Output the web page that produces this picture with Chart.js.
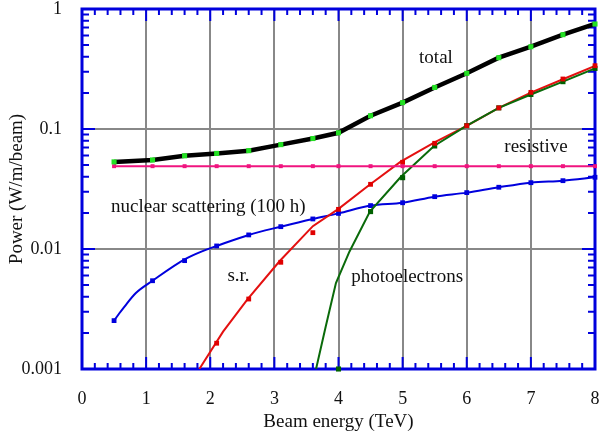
<!DOCTYPE html>
<html>
<head>
<meta charset="utf-8">
<script src="https://cdn.jsdelivr.net/npm/chart.js@4"></script>
<style>
  html, body { margin: 0; padding: 0; background: #fff; }
</style>
</head>
<body>
<canvas id="powerChart" width="599" height="436"></canvas>
<script>
// beam energies where the markers sit (TeV)
const markerX = [0.5, 1.1, 1.6, 2.1, 2.6, 3.1, 3.6, 4.0, 4.5, 5.0, 5.5, 6.0, 6.5, 7.0, 7.5, 8.0];

// total power (W/m/beam)
const totalY = [0.0532, 0.0552, 0.0598, 0.0626, 0.066, 0.0741, 0.0833, 0.093, 0.129, 0.166, 0.222, 0.291, 0.393, 0.485, 0.611, 0.75];

// resistive wall
const resistiveY = [0.049, 0.049, 0.049, 0.049, 0.049, 0.049, 0.049, 0.049, 0.049, 0.049, 0.049, 0.049, 0.049, 0.049, 0.049, 0.049];

// nuclear scattering (100 h)
const nuclearLineX = [0.5, 0.58, 0.66, 0.84, 1.1, 1.6, 1.9, 2.1, 2.6, 3.1, 3.6, 4.0, 4.5, 5.0, 5.5, 6.0, 6.5, 7.0, 7.5, 8.0];
const nuclearLineY = [0.00253, 0.0029, 0.0033, 0.0043, 0.00544, 0.0082, 0.0097, 0.0106, 0.0131, 0.01535, 0.0178, 0.0198, 0.023, 0.0243, 0.0273, 0.0295, 0.0327, 0.0357, 0.0371, 0.0396];
const nuclearY = [0.00253, 0.00544, 0.008, 0.0106, 0.0131, 0.01535, 0.0178, 0.0198, 0.023, 0.0243, 0.0273, 0.0295, 0.0327, 0.0357, 0.0371, 0.0396];

// synchrotron radiation
const srLineX = [1.83, 2.2, 2.58, 3.08, 3.6, 4.0, 4.48, 4.97, 5.49, 6.0, 6.5, 7.0, 7.5, 8.0];
const srLineY = [0.001, 0.00205, 0.0038, 0.0079, 0.0155, 0.0216, 0.0341, 0.0534, 0.0769, 0.106, 0.15, 0.201, 0.26, 0.335];
const srMarkX = [2.1, 2.6, 3.1, 3.6, 4.0, 4.5, 5.0, 5.5, 6.0, 6.5, 7.0, 7.5, 8.0];
const srMarkY = [0.00164, 0.00383, 0.00775, 0.01368, 0.0214, 0.0346, 0.0528, 0.076, 0.1066, 0.15, 0.202, 0.261, 0.337];

// photoelectrons
const peLineX = [3.65, 3.8, 3.96, 4.17, 4.49, 4.97, 5.49, 6.0, 6.5, 7.0, 7.5, 8.0];
const peLineY = [0.001, 0.00225, 0.0052, 0.0095, 0.0205, 0.0398, 0.0722, 0.1066, 0.15, 0.194, 0.248, 0.32];
const peMarkX = [4.0, 4.5, 5.0, 5.5, 6.0, 6.5, 7.0, 7.5, 8.0];
const peMarkY = [0.001, 0.0205, 0.0393, 0.0722, 0.1066, 0.15, 0.194, 0.248, 0.32];

// axis tick labels
const xTicks = [0, 1, 2, 3, 4, 5, 6, 7, 8];
const yTicks = ["0.001", "0.01", "0.1", "1"];

// curve labels (text, energy, power)
const notes = [
  ["total", 5.52, 0.39],
  ["resistive", 7.08, 0.0708],
  ["nuclear scattering (100 h)", 1.97, 0.0225],
  ["s.r.", 2.44, 0.0059],
  ["photoelectrons", 5.07, 0.0058],
];

const pts = (xs, ys) => xs.map((x, i) => ({ x: x, y: ys[i] }));
const isDecade = (v) => Math.abs(Math.log10(v) - Math.round(Math.log10(v))) < 1e-6;
const serif = "'Liberation Serif', 'Times New Roman', serif";

function line(label, data, color, width, smooth) {
  return {
    label, data, borderColor: color, borderWidth: width, pointRadius: 0, fill: false,
    cubicInterpolationMode: smooth ? "monotone" : "default", tension: 0,
  };
}
function marks(label, data, color, r) {
  return {
    label, data, showLine: false, pointStyle: "rect", pointRadius: r,
    pointBackgroundColor: color, pointBorderWidth: 0, borderColor: color, clip: false,
  };
}

// blue frame with inward ticks, drawn under the curves
const frame = {
  id: "frame",
  beforeDatasetsDraw(chart) {
    const { ctx, chartArea: a, scales } = chart;
    const xs = scales.x, ys = scales.y;
    ctx.save();
    ctx.strokeStyle = "#0000dd";
    ctx.lineWidth = 2;
    ctx.beginPath();
    for (let i = 0; i <= 40; i++) {
      const px = xs.getPixelForValue(i / 5);
      const len = i % 5 === 0 ? 12 : 6;
      ctx.moveTo(px, a.bottom); ctx.lineTo(px, a.bottom - len);
      ctx.moveTo(px, a.top); ctx.lineTo(px, a.top + len);
    }
    for (let e = -3; e <= 0; e++) {
      for (let m = 1; m <= 9; m++) {
        const v = m * Math.pow(10, e);
        if (v > 1.0001) break;
        const py = ys.getPixelForValue(v);
        const len = m === 1 ? 13 : 7;
        ctx.moveTo(a.left, py); ctx.lineTo(a.left + len, py);
        ctx.moveTo(a.right, py); ctx.lineTo(a.right - len, py);
      }
    }
    ctx.stroke();
    ctx.lineWidth = 3;
    ctx.strokeRect(a.left, a.top, a.right - a.left, a.bottom - a.top);
    ctx.restore();
  },
  afterDraw(chart) {
    const { ctx, scales } = chart;
    ctx.save();
    ctx.fillStyle = "#111";
    ctx.font = "19px " + serif;
    ctx.textAlign = "center";
    ctx.textBaseline = "middle";
    notes.forEach(([t, x, y]) => {
      ctx.fillText(t, scales.x.getPixelForValue(x), scales.y.getPixelForValue(y));
    });
    ctx.restore();
  },
};

new Chart(document.getElementById("powerChart").getContext("2d"), {
  type: "line",
  data: {
    datasets: [
      marks("total pts", pts(markerX, totalY), "#22e022", 3.6),
      line("total", pts(markerX, totalY), "#000000", 4.5, false),
      marks("resistive pts", pts(markerX, resistiveY), "#f0147f", 2.8),
      line("resistive", pts(markerX, resistiveY), "#f0147f", 2, false),
      marks("s.r. pts", pts(srMarkX, srMarkY), "#e00000", 3.4),
      marks("photoelectrons pts", pts(peMarkX, peMarkY), "#006000", 3.6),
      line("photoelectrons", pts(peLineX, peLineY), "#0a6a0a", 2, false),
      line("s.r.", pts(srLineX, srLineY), "#e41010", 2, false),
      marks("nuclear pts", pts(markerX, nuclearY), "#0000dd", 3.4),
      line("nuclear scattering (100 h)", pts(nuclearLineX, nuclearLineY), "#0000dd", 2, true),
    ],
  },
  options: {
    responsive: false,
    animation: false,
    layout: { padding: { top: 9, right: 4, left: 0, bottom: 0 } },
    plugins: { legend: { display: false }, tooltip: { enabled: false } },
    scales: {
      x: {
        type: "linear",
        min: 0,
        max: 8,
        afterBuildTicks: (s) => { s.ticks = xTicks.map((v) => ({ value: v })); },
        ticks: { color: "#111", font: { family: serif, size: 18 }, padding: 19, autoSkip: false, maxRotation: 0 },
        grid: { color: "#888888", lineWidth: 2, drawTicks: false },
        border: { display: false },
        title: { display: true, text: "Beam energy (TeV)", color: "#111", font: { family: serif, size: 19 }, padding: { top: 0, bottom: 3 } },
        afterFit: (s) => { s.height = 67; s.paddingLeft = 0; s.paddingRight = 0; },
      },
      y: {
        type: "logarithmic",
        min: 0.001,
        max: 1,
        ticks: {
          color: "#111", font: { family: serif, size: 18 }, padding: 20, autoSkip: false,
          callback: (v) => (isDecade(v) ? yTicks[Math.round(Math.log10(v)) + 3] : ""),
        },
        grid: {
          color: (c) => (c.tick && isDecade(c.tick.value) ? "#888888" : "rgba(0,0,0,0)"),
          lineWidth: 2,
          drawTicks: false,
        },
        border: { display: false },
        title: { display: true, text: "Power (W/m/beam)", color: "#111", font: { family: serif, size: 19 }, padding: { top: 6, bottom: 0 } },
        afterFit: (s) => { s.width = 82; s.paddingTop = 0; s.paddingBottom = 0; },
      },
    },
  },
  plugins: [frame],
});
</script>
</body>
</html>
